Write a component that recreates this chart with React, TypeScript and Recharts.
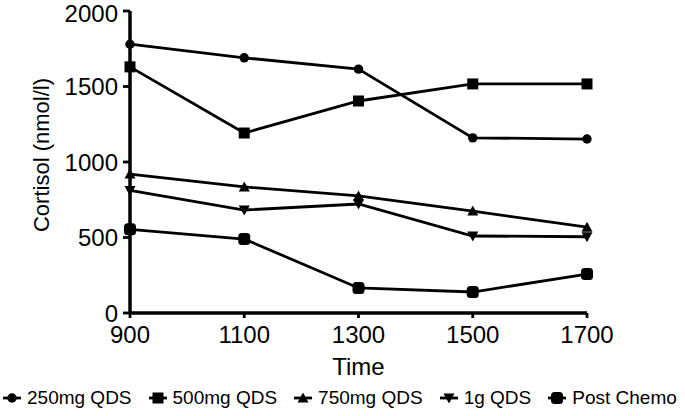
import React from 'react';
import { LineChart, Line, XAxis, YAxis, Legend } from 'recharts';

const times = [900, 1100, 1300, 1500, 1700];
const qds250 = [1780, 1690, 1615, 1160, 1152];
const qds500 = [1630, 1192, 1404, 1517, 1517];
const qds750 = [920, 835, 775, 675, 568];
const qds1g = [812, 682, 722, 510, 505];
const postChemo = [554, 490, 166, 139, 258];

const yTicks = [0, 500, 1000, 1500, 2000];

const seriesList = [
  { key: 'qds250', name: '250mg QDS', values: qds250, kind: 'circle' },
  { key: 'qds500', name: '500mg QDS', values: qds500, kind: 'square' },
  { key: 'qds750', name: '750mg QDS', values: qds750, kind: 'up' },
  { key: 'qds1g', name: '1g QDS', values: qds1g, kind: 'down' },
  { key: 'post', name: 'Post Chemo', values: postChemo, kind: 'octagon' },
];

const chartData = times.map((t, i) => {
  const row: any = { time: t };
  seriesList.forEach((s) => {
    row[s.key] = s.values[i];
  });
  return row;
});

const FONT = '"Liberation Sans", Arial, Helvetica, sans-serif';

const Mark = ({ cx, cy, kind }: { cx: number; cy: number; kind: string }) => {
  if (cx == null || cy == null) return null;
  switch (kind) {
    case 'circle':
      return <circle cx={cx} cy={cy} r={4.7} fill="#000" />;
    case 'square':
      return <rect x={cx - 5.5} y={cy - 5.5} width={11} height={11} fill="#000" />;
    case 'up':
      return <polygon points={`${cx},${cy - 5.5} ${cx + 5.5},${cy + 4.5} ${cx - 5.5},${cy + 4.5}`} fill="#000" />;
    case 'down':
      return <polygon points={`${cx},${cy + 5.5} ${cx + 5.5},${cy - 4.5} ${cx - 5.5},${cy - 4.5}`} fill="#000" />;
    default:
      return <rect x={cx - 6} y={cy - 6} width={12} height={12} rx={3.5} fill="#000" />;
  }
};

const renderLegend = () => (
  <div
    style={{
      display: 'flex',
      alignItems: 'center',
      gap: 16,
      height: 36,
      paddingLeft: 2,
      fontFamily: FONT,
      fontSize: 19,
      color: '#000',
    }}
  >
    {seriesList.map((s) => (
      <div key={s.key} style={{ display: 'flex', alignItems: 'center', whiteSpace: 'nowrap' }}>
        <svg width={20} height={14}>
          <line x1={1} y1={7} x2={19} y2={7} stroke="#000" strokeWidth={2.8} />
          <Mark cx={10} cy={7} kind={s.kind} />
        </svg>
        <span style={{ marginLeft: 5 }}>{s.name}</span>
      </div>
    ))}
  </div>
);

const YLabel = (props: any) => {
  const vb = props.viewBox || { x: 0, y: 0, width: 0, height: 0 };
  const cx = vb.x + 41;
  const cy = vb.y + vb.height / 2 - 7;
  return (
    <text
      x={cx}
      y={cy}
      transform={`rotate(-90 ${cx} ${cy})`}
      textAnchor="middle"
      dominantBaseline="central"
      fontSize={22}
      fontFamily={FONT}
      fill="#000"
    >
      Cortisol (nmol/l)
    </text>
  );
};

export default function App() {
  return (
    <div style={{ position: 'absolute', left: 0, top: 0, background: '#fff' }}>
      <LineChart
        width={685}
        height={416}
        data={chartData}
        margin={{ top: 11, right: 98, bottom: 0, left: 0 }}
      >
        <XAxis
          dataKey="time"
          type="number"
          domain={[900, 1700]}
          ticks={times}
          height={67}
          axisLine={{ stroke: '#000', strokeWidth: 3.5 }}
          tickLine={{ stroke: '#000', strokeWidth: 2.8 }}
          tickSize={5}
          tickMargin={8}
          tick={{ fill: '#000', fontSize: 24, fontFamily: FONT }}
          label={{ value: 'Time', position: 'insideBottom', offset: 5, fill: '#000', fontSize: 24, fontFamily: FONT }}
        />
        <YAxis
          type="number"
          domain={[0, 2000]}
          ticks={yTicks}
          width={130}
          axisLine={{ stroke: '#000', strokeWidth: 3.5 }}
          tickLine={{ stroke: '#000', strokeWidth: 2.8 }}
          tickSize={7}
          tickMargin={5}
          tick={{ fill: '#000', fontSize: 24, fontFamily: FONT }}
          label={{ content: YLabel }}
        />
        <Legend
          verticalAlign="bottom"
          height={36}
          content={renderLegend}
          wrapperStyle={{ left: 0, width: 685 }}
        />
        {seriesList.map((s) => (
          <Line
            key={s.key}
            dataKey={s.key}
            name={s.name}
            type="linear"
            stroke="#000"
            strokeWidth={2.8}
            isAnimationActive={false}
            activeDot={false}
            dot={(p: any) => <Mark key={`${s.key}-${p.index}`} cx={p.cx} cy={p.cy} kind={s.kind} />}
          />
        ))}
      </LineChart>
    </div>
  );
}
